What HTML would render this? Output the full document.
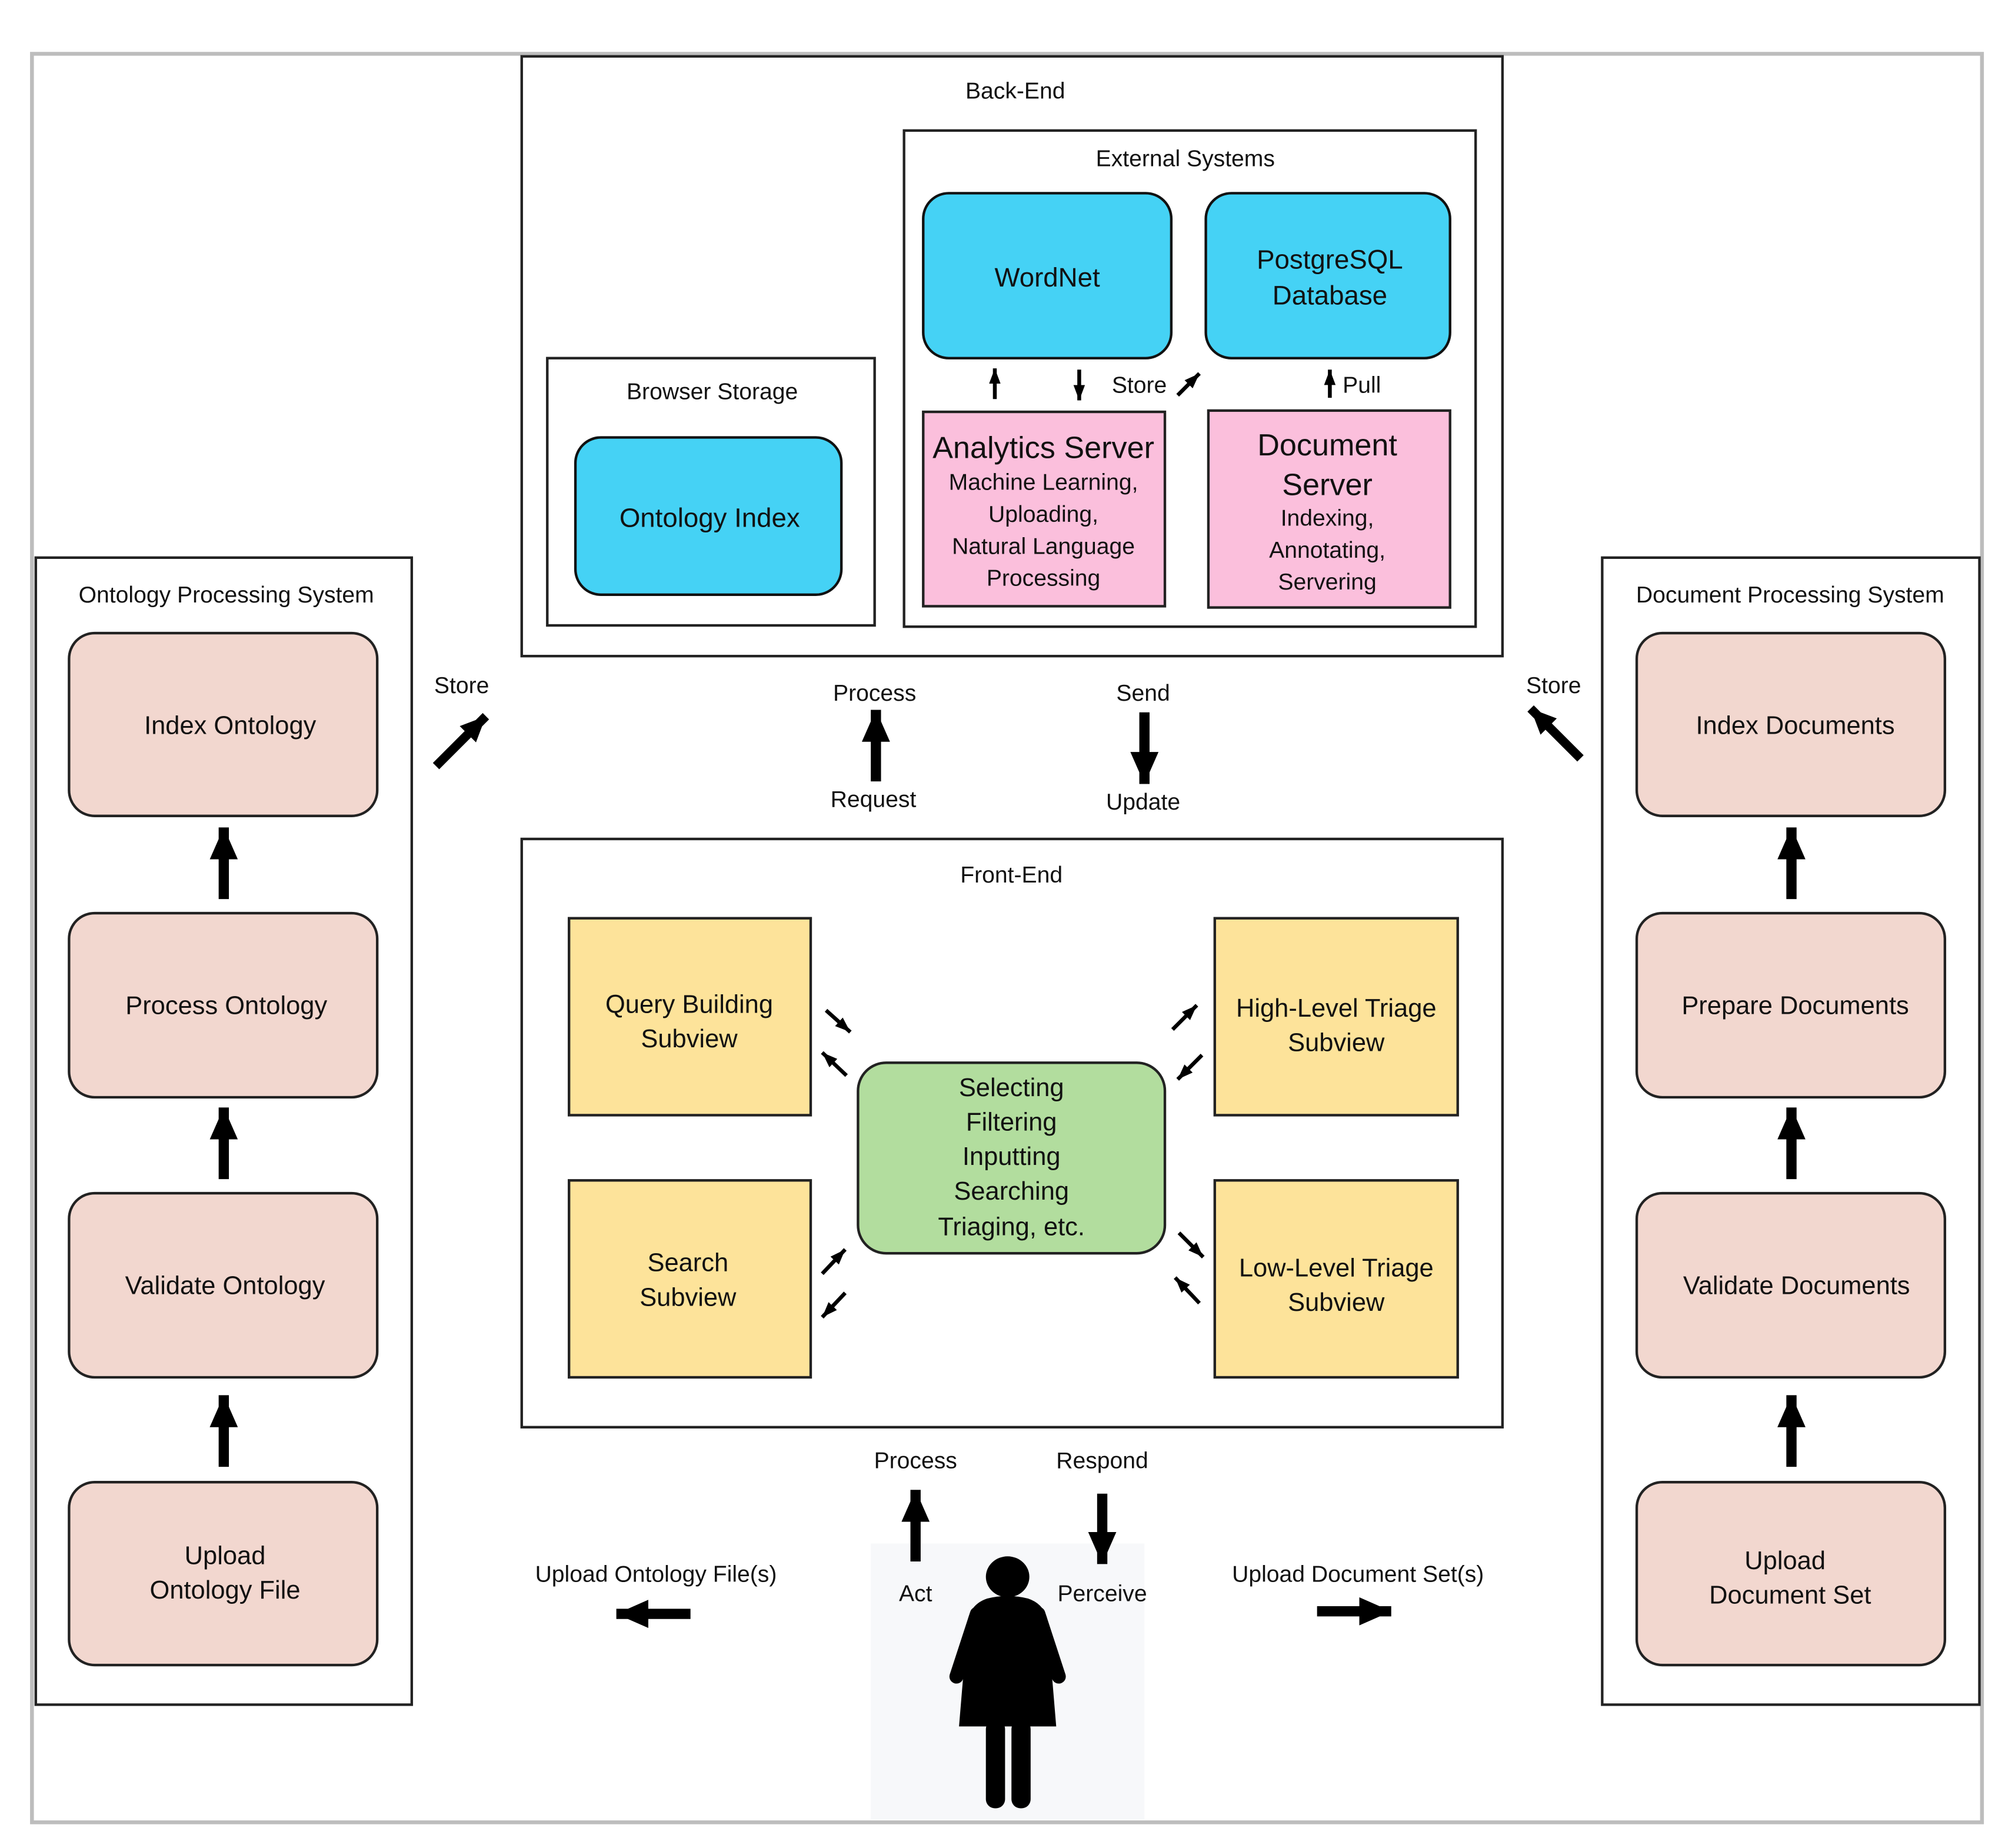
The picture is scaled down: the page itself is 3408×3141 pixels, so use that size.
<!DOCTYPE html>
<html><head><meta charset="utf-8"><style>
html,body{margin:0;padding:0;background:#fff;}
svg{display:block;}
text{font-family:"Liberation Sans",sans-serif;fill:#111;text-anchor:middle;}
</style></head><body>
<svg width="3408" height="3141" viewBox="0 0 1568 1445" xmlns="http://www.w3.org/2000/svg">
<defs>
<marker id="big" markerUnits="userSpaceOnUse" markerWidth="26" markerHeight="24" refX="25" refY="11" orient="auto"><path d="M0,0 L25,11 L0,22 z" fill="#000"/></marker>
<marker id="med" markerUnits="userSpaceOnUse" markerWidth="22" markerHeight="20" refX="20" refY="9" orient="auto"><path d="M0,0 L20,9 L0,18 z" fill="#000"/></marker>
<marker id="sm" markerUnits="userSpaceOnUse" markerWidth="12" markerHeight="10" refX="12" refY="4.5" orient="auto"><path d="M0,0 L12,4.5 L0,9 z" fill="#000"/></marker>
</defs>
<rect x="0" y="0" width="1568" height="1445" fill="#fff"/>
<rect x="25" y="42" width="1525" height="1383" fill="none" stroke="#bdbdbd" stroke-width="3"/>

<!-- Back-End -->
<rect x="408" y="44" width="767" height="469" fill="#fff" stroke="#222" stroke-width="2"/>
<text x="794" y="77" font-size="18">Back-End</text>
<rect x="707" y="102" width="447" height="388" fill="#fff" stroke="#222" stroke-width="2"/>
<text x="927" y="130" font-size="18">External Systems</text>
<rect x="722" y="151" width="194" height="129" rx="20" fill="#45d2f5" stroke="#111" stroke-width="2"/>
<text x="819" y="224" font-size="21">WordNet</text>
<rect x="943" y="151" width="191" height="129" rx="20" fill="#45d2f5" stroke="#111" stroke-width="2"/>
<text x="1040" y="210" font-size="21">PostgreSQL</text>
<text x="1040" y="238" font-size="21">Database</text>
<line x1="778" y1="312" x2="778" y2="288" stroke="#000" stroke-width="3" marker-end="url(#sm)"/>
<line x1="844" y1="289" x2="844" y2="313" stroke="#000" stroke-width="3" marker-end="url(#sm)"/>
<text x="891" y="307" font-size="18">Store</text>
<line x1="921" y1="309" x2="938" y2="292" stroke="#000" stroke-width="3" marker-end="url(#sm)"/>
<line x1="1040" y1="311" x2="1040" y2="289" stroke="#000" stroke-width="3" marker-end="url(#sm)"/>
<text x="1065" y="307" font-size="18">Pull</text>
<rect x="722" y="322" width="189" height="152" fill="#fbbfdc" stroke="#222" stroke-width="2"/>
<text x="816" y="358" font-size="24">Analytics Server</text>
<text x="816" y="383" font-size="18">Machine Learning,</text>
<text x="816" y="408" font-size="18">Uploading,</text>
<text x="816" y="433" font-size="18">Natural Language</text>
<text x="816" y="458" font-size="18">Processing</text>
<rect x="945" y="321" width="189" height="154" fill="#fbbfdc" stroke="#222" stroke-width="2"/>
<text x="1038" y="356" font-size="24">Document</text>
<text x="1038" y="387" font-size="24">Server</text>
<text x="1038" y="411" font-size="18">Indexing,</text>
<text x="1038" y="436" font-size="18">Annotating,</text>
<text x="1038" y="461" font-size="18">Servering</text>
<rect x="428" y="280" width="256" height="209" fill="#fff" stroke="#222" stroke-width="2"/>
<text x="557" y="312" font-size="18">Browser Storage</text>
<rect x="450" y="342" width="208" height="123" rx="20" fill="#45d2f5" stroke="#111" stroke-width="2"/>
<text x="555" y="412" font-size="21">Ontology Index</text>

<!-- panels -->
<rect x="28" y="436" width="294" height="897" fill="none" stroke="#222" stroke-width="2"/>
<text x="177" y="471" font-size="18">Ontology Processing System</text>
<rect x="1253" y="436" width="295" height="897" fill="none" stroke="#222" stroke-width="2"/>
<text x="1400" y="471" font-size="18">Document Processing System</text>
<g fill="#f2d7cf" stroke="#222" stroke-width="2">
<rect x="54" y="495" width="241" height="143" rx="20"/>
<rect x="54" y="714" width="241" height="144" rx="20"/>
<rect x="54" y="933" width="241" height="144" rx="20"/>
<rect x="54" y="1159" width="241" height="143" rx="20"/>
<rect x="1280" y="495" width="241" height="143" rx="20"/>
<rect x="1280" y="714" width="241" height="144" rx="20"/>
<rect x="1280" y="933" width="241" height="144" rx="20"/>
<rect x="1280" y="1159" width="241" height="143" rx="20"/>
</g>
<text x="180" y="574" font-size="20">Index Ontology</text>
<text x="177" y="793" font-size="20">Process Ontology</text>
<text x="176" y="1012" font-size="20">Validate Ontology</text>
<text x="176" y="1223" font-size="20">Upload</text>
<text x="176" y="1250" font-size="20">Ontology File</text>
<text x="1404" y="574" font-size="20">Index Documents</text>
<text x="1404" y="793" font-size="20">Prepare Documents</text>
<text x="1405" y="1012" font-size="20">Validate Documents</text>
<text x="1396" y="1227" font-size="20">Upload</text>
<text x="1400" y="1254" font-size="20">Document Set</text>
<g stroke="#000" stroke-width="8">
<line x1="175" y1="703" x2="175" y2="647" marker-end="url(#big)"/>
<line x1="175" y1="922" x2="175" y2="866" marker-end="url(#big)"/>
<line x1="175" y1="1147" x2="175" y2="1091" marker-end="url(#big)"/>
<line x1="1401" y1="703" x2="1401" y2="647" marker-end="url(#big)"/>
<line x1="1401" y1="922" x2="1401" y2="866" marker-end="url(#big)"/>
<line x1="1401" y1="1147" x2="1401" y2="1091" marker-end="url(#big)"/>
</g>

<!-- middle connectors -->
<text x="361" y="542" font-size="18">Store</text>
<line x1="341" y1="599" x2="380" y2="560" stroke="#000" stroke-width="7" marker-end="url(#med)"/>
<text x="1215" y="542" font-size="18">Store</text>
<line x1="1236" y1="593" x2="1197" y2="554" stroke="#000" stroke-width="7" marker-end="url(#med)"/>
<text x="684" y="548" font-size="18">Process</text>
<line x1="685" y1="611" x2="685" y2="555" stroke="#000" stroke-width="8" marker-end="url(#big)"/>
<text x="683" y="631" font-size="18">Request</text>
<text x="894" y="548" font-size="18">Send</text>
<line x1="895" y1="557" x2="895" y2="613" stroke="#000" stroke-width="8" marker-end="url(#big)"/>
<text x="894" y="633" font-size="18">Update</text>

<!-- Front-End -->
<rect x="408" y="656" width="767" height="460" fill="#fff" stroke="#222" stroke-width="2"/>
<text x="791" y="690" font-size="18">Front-End</text>
<g fill="#fde39a" stroke="#222" stroke-width="2">
<rect x="445" y="718" width="189" height="154"/>
<rect x="950" y="718" width="190" height="154"/>
<rect x="445" y="923" width="189" height="154"/>
<rect x="950" y="923" width="190" height="154"/>
</g>
<text x="539" y="792" font-size="20">Query Building</text>
<text x="539" y="819" font-size="20">Subview</text>
<text x="1045" y="795" font-size="20">High-Level Triage</text>
<text x="1045" y="822" font-size="20">Subview</text>
<text x="538" y="994" font-size="20">Search</text>
<text x="538" y="1021" font-size="20">Subview</text>
<text x="1045" y="998" font-size="20">Low-Level Triage</text>
<text x="1045" y="1025" font-size="20">Subview</text>
<rect x="671" y="831" width="240" height="149" rx="22" fill="#b2dd9e" stroke="#222" stroke-width="2"/>
<g font-size="20">
<text x="791" y="857">Selecting</text>
<text x="791" y="884">Filtering</text>
<text x="791" y="911">Inputting</text>
<text x="791" y="938">Searching</text>
<text x="791" y="966">Triaging, etc.</text>
</g>
<g stroke="#000" stroke-width="3">
<line x1="646" y1="790" x2="665" y2="807" marker-end="url(#sm)"/>
<line x1="662" y1="841" x2="643" y2="823" marker-end="url(#sm)"/>
<line x1="917" y1="805" x2="936" y2="786" marker-end="url(#sm)"/>
<line x1="940" y1="825" x2="921" y2="844" marker-end="url(#sm)"/>
<line x1="643" y1="996" x2="661" y2="977" marker-end="url(#sm)"/>
<line x1="661" y1="1011" x2="643" y2="1030" marker-end="url(#sm)"/>
<line x1="922" y1="964" x2="941" y2="983" marker-end="url(#sm)"/>
<line x1="938" y1="1019" x2="919" y2="999" marker-end="url(#sm)"/>
</g>

<!-- bottom -->
<rect x="681" y="1207" width="214" height="216" fill="#f7f8fa"/>
<text x="716" y="1148" font-size="18">Process</text>
<text x="862" y="1148" font-size="18">Respond</text>
<line x1="716" y1="1221" x2="716" y2="1165" stroke="#000" stroke-width="8" marker-end="url(#big)"/>
<line x1="862" y1="1168" x2="862" y2="1223" stroke="#000" stroke-width="8" marker-end="url(#big)"/>
<text x="716" y="1252" font-size="18">Act</text>
<text x="862" y="1252" font-size="18">Perceive</text>
<text x="513" y="1237" font-size="18">Upload Ontology File(s)</text>
<line x1="540" y1="1262" x2="482" y2="1262" stroke="#000" stroke-width="8" marker-end="url(#big)"/>
<text x="1062" y="1237" font-size="18">Upload Document Set(s)</text>
<line x1="1030" y1="1260" x2="1088" y2="1260" stroke="#000" stroke-width="8" marker-end="url(#big)"/>

<!-- person -->
<g fill="#000">
<ellipse cx="788" cy="1233" rx="17" ry="16"/>
<path d="M772,1250 Q788,1246 804,1250 Q816,1254 819,1266 L826,1350 L750,1350 L757,1266 Q760,1254 772,1250 z"/>
<line x1="764" y1="1262" x2="748" y2="1311" stroke="#000" stroke-width="11" stroke-linecap="round"/>
<line x1="812" y1="1262" x2="828" y2="1311" stroke="#000" stroke-width="11" stroke-linecap="round"/>
<rect x="771" y="1345" width="15" height="69" rx="7"/>
<rect x="791" y="1345" width="15" height="69" rx="7"/>
</g>
</svg>
</body></html>
